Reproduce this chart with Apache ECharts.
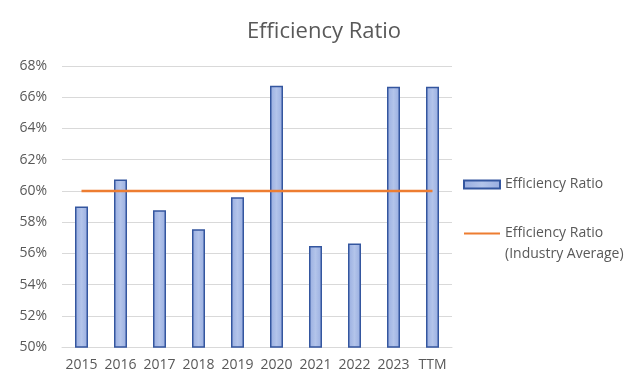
<!DOCTYPE html>
<html>
<head>
<meta charset="utf-8">
<script src="https://cdn.jsdelivr.net/npm/echarts@6/dist/echarts.min.js"></script>
<style>
html,body{margin:0;padding:0;background:#fff;}
#main{width:640px;height:383px;}
</style>
</head>
<body>
<div id="main"></div>
<script>
// 数据
var categories = ['2015','2016','2017','2018','2019','2020','2021','2022','2023','TTM'];
var ratioValues = [59.0, 60.73, 58.76, 57.54, 59.6, 66.73, 56.47, 56.63, 66.67, 66.67];
var industryAvg = [60, 60, 60, 60, 60, 60, 60, 60, 60, 60];

var myChart = echarts.init(document.getElementById('main'));
var font = 'Open Sans';

var option = {
    backgroundColor: '#fff',
    title: {
        text: 'Efficiency Ratio',
        left: 319,
        textAlign: 'center',
        top: 16,
        textStyle: {color: '#595959', fontSize: 22, fontWeight: 'normal', fontFamily: font}
    },
    grid: {left: 62, right: 188, top: 66, bottom: 36},
    legend: {
        orient: 'vertical',
        left: 458,
        top: 169,
        itemGap: 7,
        itemWidth: 36,
        itemHeight: 8,
        textStyle: {color: '#595959', fontSize: 14, fontFamily: font, lineHeight: 21},
        formatter: function(name){
            // 两行的图例：前面加一空行，让橙色线对齐第一行文字
            if (name.indexOf(' (') > -1) {
                return ' \n' + name.replace(' (', '\n(');
            }
            return name;
        },
        data: [
            {name: 'Efficiency Ratio', icon: 'rect'},
            {name: 'Efficiency Ratio (Industry Average)', itemStyle: {opacity: 0}}
        ]
    },
    xAxis: {
        type: 'category',
        data: categories,
        axisLine: {lineStyle: {color: '#d9d9d9', width: 1}},
        axisTick: {show: false},
        axisLabel: {color: '#595959', fontSize: 14, fontFamily: font, margin: 11, interval: 0}
    },
    yAxis: {
        type: 'value',
        min: 50,
        max: 68,
        interval: 2,
        axisLine: {show: false},
        axisTick: {show: false},
        splitLine: {lineStyle: {color: '#d9d9d9', width: 1}},
        axisLabel: {color: '#595959', fontSize: 14, fontFamily: font, margin: 15,
            formatter: '{value}%'}
    },
    series: [
        {
            name: 'Efficiency Ratio',
            type: 'bar',
            data: ratioValues,
            barWidth: 13,
            itemStyle: {
                color: new echarts.graphic.LinearGradient(0, 0, 1, 0, [
                    {offset: 0, color: '#98ade0'},
                    {offset: 0.5, color: '#b3c4ea'},
                    {offset: 1, color: '#98ade0'}
                ]),
                borderColor: '#34569f',
                borderWidth: 1.5
            }
        },
        {
            name: 'Efficiency Ratio (Industry Average)',
            type: 'line',
            data: industryAvg,
            symbol: 'none',
            z: 3,
            lineStyle: {color: '#ed7d31', width: 2.5},
            itemStyle: {color: '#ed7d31'}
        }
    ]
};

myChart.setOption(option);
</script>
</body>
</html>
